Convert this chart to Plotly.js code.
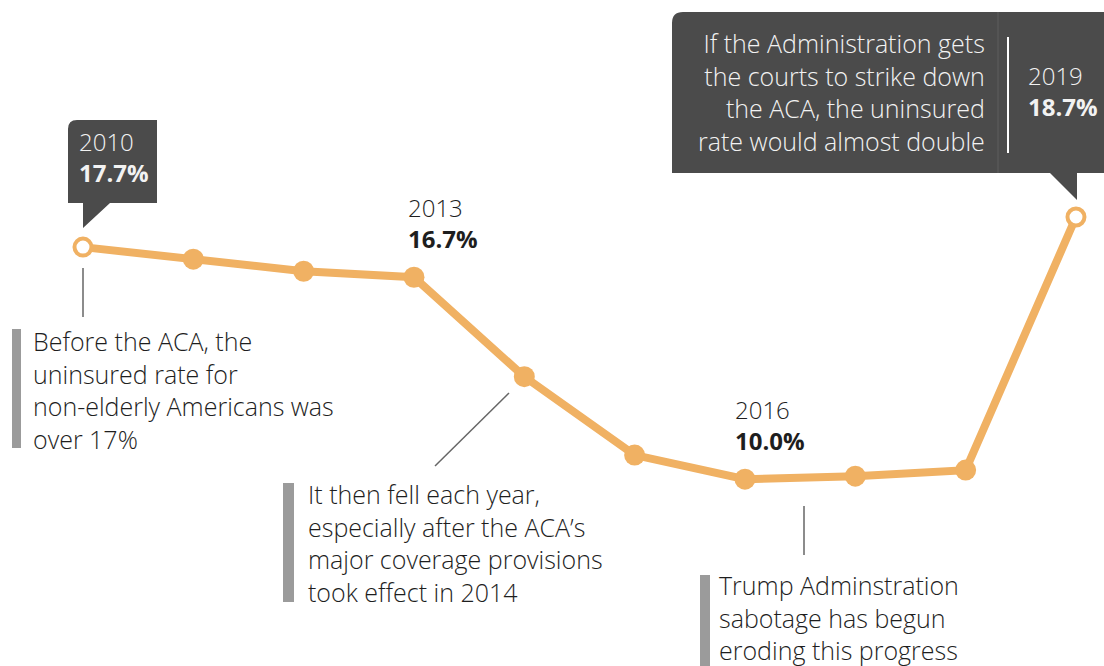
<!DOCTYPE html>
<html>
<head>
<meta charset="utf-8">
<script src="https://cdn.plot.ly/plotly-3.0.1.min.js"></script>
<style>html,body{margin:0;padding:0;background:#fff;}#chart{width:1104px;height:666px;}</style>
</head>
<body>
<div id="chart"></div>
<script>
// ---- data ----
var years = [2010, 2011, 2012, 2013, 2014, 2015, 2016, 2017, 2018, 2019];
var rates = [17.7, 17.3, 16.9, 16.7, 13.4, 10.8, 10.0, 10.1, 10.3, 18.7];
var labelYears = [2010, 2013, 2016, 2019];
var noteBefore = ["Before the ACA, the", "uninsured rate for", "non-elderly Americans was", "over 17%"];
var noteFell = ["It then fell each year,", "especially after the ACA\u2019s", "major coverage provisions", "took effect in 2014"];
var noteTrump = ["Trump Adminstration", "sabotage has begun", "eroding this progress"];
var noteCourts = ["If the Administration gets", "the courts to strike down", "the ACA, the uninsured", "rate would almost double"];

// ---- styling / layout helpers ----
var W = 1104, H = 666;
var ORANGE = '#F0B163', DARK = '#4B4B4B', BAR = '#9B9B9B', INK = '#1E1E1E', LIGHT = '#F2F2F2';
var FONT = '"Open Sans", Lato, sans-serif';
var FSIZE = 24, NSIZE = 25;
function px(x) { return x / W; }
function py(y) { return 1 - y / H; }
function P(x, y) { return px(x) + ',' + py(y); }

var ends = [years[0], years[years.length - 1]];
var endRates = [rates[0], rates[rates.length - 1]];

var traces = [
  { x: years, y: rates, type: 'scatter', mode: 'lines', line: { color: ORANGE, width: 8 }, opacity: 1, hoverinfo: 'none' },
  { x: years.slice(1, -1), y: rates.slice(1, -1), type: 'scatter', mode: 'markers', opacity: 1,
    marker: { color: ORANGE, size: 21, opacity: 1, line: { width: 0 } }, hoverinfo: 'none' },
  { x: ends, y: endRates, type: 'scatter', mode: 'markers', opacity: 1, cliponaxis: false,
    marker: { color: '#FFFFFF', size: 17, opacity: 1, line: { color: ORANGE, width: 4 } }, hoverinfo: 'none' }
];

var shapes = [
  { type: 'path', xref: 'paper', yref: 'paper', fillcolor: DARK, line: { width: 0 },
    path: 'M' + P(68, 129) + ' Q' + P(68, 120) + ' ' + P(77, 120) + ' L' + P(157, 120) + ' L' + P(157, 203) +
          ' L' + P(110, 203) + ' L' + P(83, 228) + ' L' + P(83, 203) + ' L' + P(68, 203) + ' Z' },
  { type: 'path', xref: 'paper', yref: 'paper', fillcolor: DARK, line: { width: 0 },
    path: 'M' + P(672, 23) + ' Q' + P(672, 12) + ' ' + P(683, 12) + ' L' + P(1104, 12) + ' L' + P(1104, 173) +
          ' L' + P(1077, 173) + ' L' + P(1077, 200) + ' L' + P(1050, 173) + ' L' + P(672, 173) + ' Z' },
  { type: 'line', xref: 'paper', yref: 'paper', x0: px(998), x1: px(998), y0: py(12), y1: py(173), line: { color: '#5E5E5E', width: 1 } },
  { type: 'line', xref: 'paper', yref: 'paper', x0: px(1008), x1: px(1008), y0: py(37), y1: py(153), line: { color: '#FFFFFF', width: 2 } },
  { type: 'rect', xref: 'paper', yref: 'paper', x0: px(12), x1: px(21), y0: py(329), y1: py(448), fillcolor: BAR, line: { width: 0 } },
  { type: 'rect', xref: 'paper', yref: 'paper', x0: px(283), x1: px(294), y0: py(483), y1: py(602), fillcolor: BAR, line: { width: 0 } },
  { type: 'rect', xref: 'paper', yref: 'paper', x0: px(700), x1: px(710), y0: py(575), y1: py(666), fillcolor: BAR, line: { width: 0 } },
  { type: 'line', xref: 'paper', yref: 'paper', x0: px(83), x1: px(83), y0: py(268), y1: py(317), line: { color: '#666', width: 1.5 } },
  { type: 'line', xref: 'paper', yref: 'paper', x0: px(509), x1: px(435), y0: py(393), y1: py(466), line: { color: '#666', width: 1.5 } },
  { type: 'line', xref: 'paper', yref: 'paper', x0: px(804), x1: px(804), y0: py(506), y1: py(555), line: { color: '#666', width: 1.5 } }
];

var annotations = [];
// year / value labels anchored to the data points
var offsets = { 2010: [-6, 90, LIGHT], 2013: [-8, 54, INK], 2016: [-12, 54, INK], 2019: [-50, 126, LIGHT] };
labelYears.forEach(function (yr) {
  var i = years.indexOf(yr), o = offsets[yr];
  annotations.push({ x: yr, y: rates[i], xref: 'x', yref: 'y', xanchor: 'left', yanchor: 'middle', align: 'left',
    showarrow: false, xshift: o[0], yshift: o[1],
    text: String(yr) + '<br><b>' + rates[i].toFixed(1) + '%</b>',
    font: { family: FONT, size: FSIZE, color: o[2], weight: 300 } });
});
function note(lines, x, yMid, anchor, color) {
  annotations.push({ xref: 'paper', yref: 'paper', x: px(x), y: py(yMid), xanchor: anchor, yanchor: 'middle',
    align: anchor, showarrow: false, text: lines.join('<br>'), font: { family: FONT, size: NSIZE, color: color, weight: 300 } });
}
note(noteBefore, 31, 390, 'left', INK);
note(noteFell, 306, 543, 'left', INK);
note(noteTrump, 717, 617, 'left', INK);
note(noteCourts, 987, 92, 'right', LIGHT);

var layout = {
  width: W, height: H, margin: { l: 0, r: 0, t: 0, b: 0 },
  paper_bgcolor: '#fff', plot_bgcolor: '#fff', showlegend: false,
  xaxis: { range: [2009.248, 2019.254], visible: false, fixedrange: true },
  yaxis: { range: [3.8, 25.9], visible: false, fixedrange: true },
  shapes: shapes, annotations: annotations
};

Plotly.newPlot('chart', traces, layout, { displayModeBar: false, staticPlot: true });
</script>
</body>
</html>
